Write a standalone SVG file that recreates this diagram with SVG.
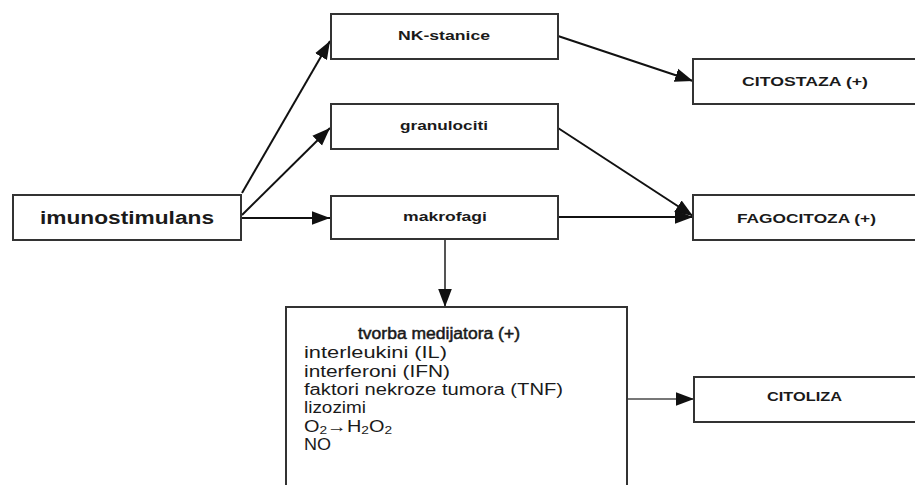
<svg xmlns="http://www.w3.org/2000/svg" width="915" height="485" viewBox="0 0 915 485">
<defs>
<style>
.box{fill:#fff;stroke:#333;stroke-width:2}
.lbl{font-family:"Liberation Sans",Arial,sans-serif;font-weight:bold;font-size:13px;fill:#1a1a1a}
.big{font-size:18px}
.body{font-family:"Liberation Sans",Arial,sans-serif;font-size:16px;fill:#1a1a1a}
.hd{stroke:#1a1a1a;stroke-width:0.5}
.con{stroke:#111;stroke-width:2;fill:none;marker-end:url(#ah)}
.gray{stroke:#555}
.lgray{stroke:#777}
</style>
<marker id="ah" viewBox="0 0 10 10" refX="10" refY="5" markerWidth="18" markerHeight="18" markerUnits="userSpaceOnUse" orient="auto">
<path d="M0,1.2 L10,5 L0,8.8 z" fill="#111"/>
</marker>
</defs>
<rect width="915" height="485" fill="#fff"/>
<g id="connectors">
<line class="con" x1="242" y1="193" x2="330" y2="41"/>
<line class="con" x1="242" y1="215" x2="330" y2="128"/>
<line class="con" x1="242" y1="218" x2="330" y2="218"/>
<line class="con" x1="558" y1="36" x2="693" y2="81"/>
<line class="con" x1="558" y1="128" x2="693" y2="216"/>
<line class="con" x1="558" y1="217" x2="693" y2="217"/>
<line class="con gray" x1="445" y1="239" x2="445" y2="307"/>
<line class="con lgray" x1="627" y1="399" x2="694" y2="399"/>
</g>
<g id="imunostimulans">
<rect class="box" x="13" y="195" width="228" height="45"/>
<text class="lbl big" x="40" y="224" textLength="174" lengthAdjust="spacingAndGlyphs">imunostimulans</text>
</g>
<g id="nk-stanice">
<rect class="box" x="331" y="14" width="227" height="45"/>
<text class="lbl" x="398" y="40" textLength="92" lengthAdjust="spacingAndGlyphs">NK-stanice</text>
</g>
<g id="granulociti">
<rect class="box" x="331" y="104" width="227" height="45"/>
<text class="lbl" x="400" y="130" textLength="88" lengthAdjust="spacingAndGlyphs">granulociti</text>
</g>
<g id="makrofagi">
<rect class="box" x="331" y="196" width="227" height="43"/>
<text class="lbl" x="403" y="221" textLength="84" lengthAdjust="spacingAndGlyphs">makrofagi</text>
</g>
<g id="citostaza">
<rect class="box" x="693" y="59" width="230" height="45"/>
<text class="lbl" x="742" y="86" textLength="126" lengthAdjust="spacingAndGlyphs">CITOSTAZA (+)</text>
</g>
<g id="fagocitoza">
<rect class="box" x="693" y="195" width="230" height="45"/>
<text class="lbl" x="737" y="223" textLength="139" lengthAdjust="spacingAndGlyphs">FAGOCITOZA (+)</text>
</g>
<g id="citoliza">
<rect class="box" x="694" y="377" width="230" height="45"/>
<text class="lbl" x="767" y="401" textLength="75" lengthAdjust="spacingAndGlyphs">CITOLIZA</text>
</g>
<g id="medijatori">
<rect class="box" x="286" y="307" width="341" height="190"/>
<text class="body hd" x="358" y="339" textLength="162" lengthAdjust="spacingAndGlyphs">tvorba medijatora (+)</text>
<text class="body" x="304" y="358" textLength="143" lengthAdjust="spacingAndGlyphs">interleukini (IL)</text>
<text class="body" x="304" y="377" textLength="146" lengthAdjust="spacingAndGlyphs">interferoni (IFN)</text>
<text class="body" x="304" y="395" textLength="259" lengthAdjust="spacingAndGlyphs">faktori nekroze tumora (TNF)</text>
<text class="body" x="304" y="413" textLength="62" lengthAdjust="spacingAndGlyphs">lizozimi</text>
<text class="body" x="304" y="432" textLength="88" lengthAdjust="spacingAndGlyphs">O<tspan font-size="11" dy="2">2</tspan><tspan dy="-2">→H</tspan><tspan font-size="11" dy="2">2</tspan><tspan dy="-2">O</tspan><tspan font-size="11" dy="2">2</tspan></text>
<text class="body" x="304" y="450" textLength="27" lengthAdjust="spacingAndGlyphs">NO</text>
</g>
</svg>
